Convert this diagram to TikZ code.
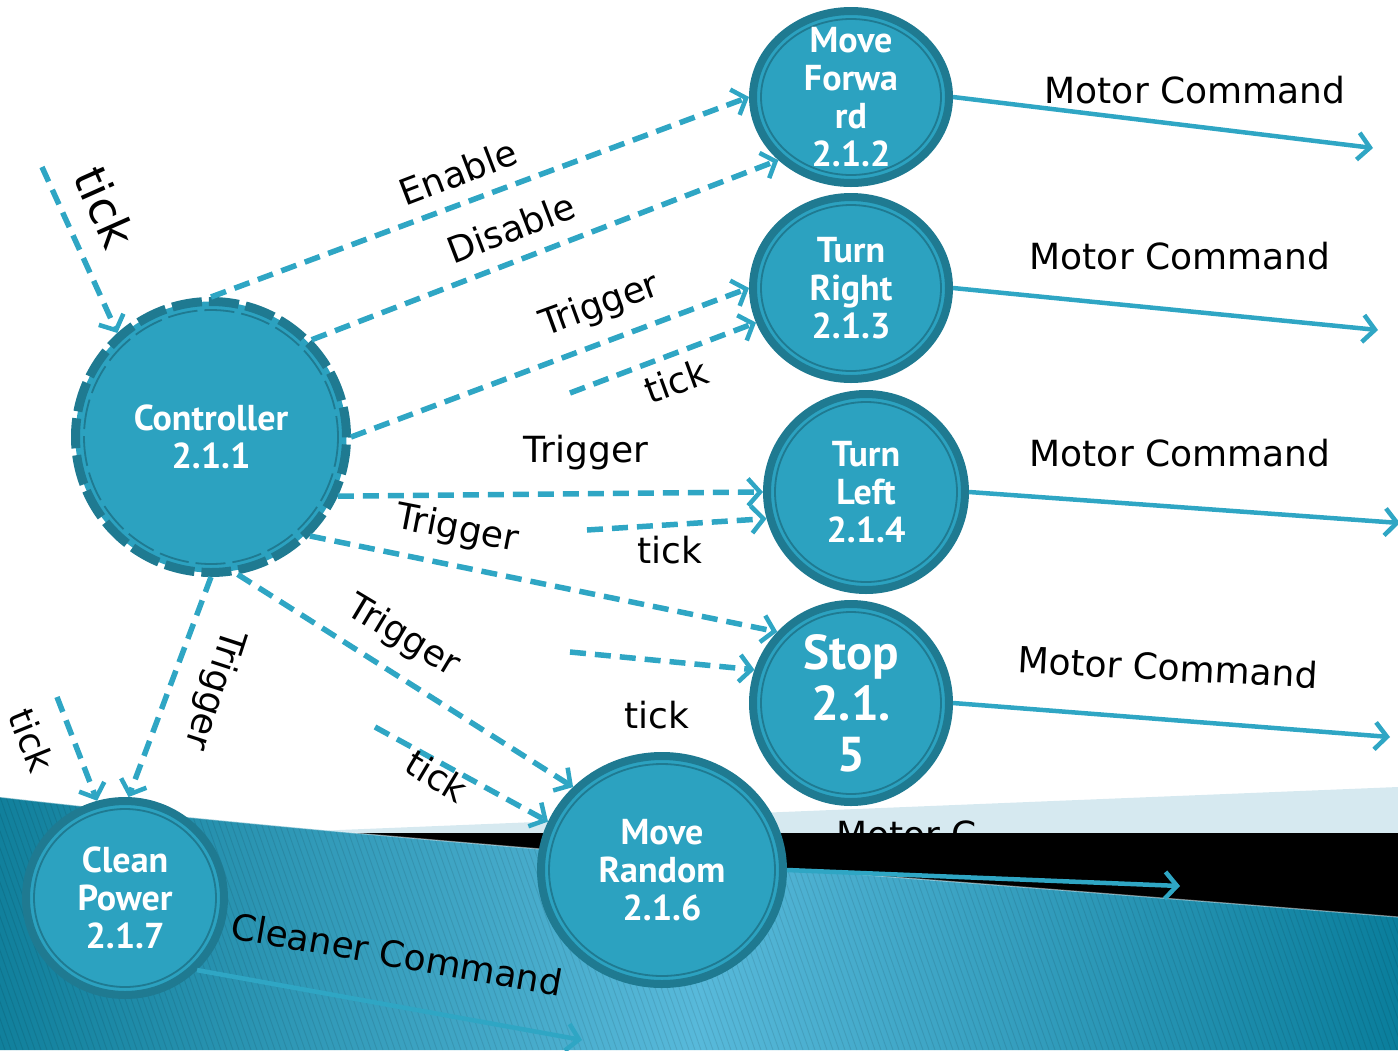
\documentclass[tikz,border=0pt]{standalone}
\usepackage{fontspec}
\setmainfont{DejaVu Sans}
\newfontfamily\procfont{PT Sans}
\usetikzlibrary{shapes.geometric,arrows.meta}

\definecolor{flow}{HTML}{2FA6C4}
\definecolor{procfill}{HTML}{2CA2C0}
\definecolor{procring}{HTML}{1F7A91}
\definecolor{bandlight}{HTML}{D6E9F0}
\definecolor{seaL}{HTML}{11809C}
\definecolor{seaM}{HTML}{58B9DA}
\definecolor{seaR}{HTML}{0A7E9C}

\tikzset{
  flowline/.style={draw=flow, line width=4.5pt,
    -{Straight Barb[length=12pt,width=27pt,line width=4.5pt]}},
  dashflow/.style={flowline, line width=5.5pt, dash pattern=on 16pt off 9pt},
  lbl/.style={font=\fontsize{36}{40}\selectfont, inner sep=0pt, text=black},
  proc/.style={ellipse, fill=procfill, draw=procring, line width=8pt, inner sep=0pt},
  procinner/.style={draw=procring, line width=1.8pt},
  ptext/.style={font=\procfont\bfseries\fontsize{36}{38}\selectfont, text=white,
    align=center, inner sep=0pt},
}

% process bubble: name, x, y, x radius, y radius
\newcommand\procnode[5]{%
  \node[proc, minimum width={2*#4-8}, minimum height={2*#5-8}] (#1) at (#2,#3) {};
  \draw[procinner] (#1.center) ellipse [x radius={#4-12}, y radius={#5-12}];
}

\begin{document}
\begin{tikzpicture}[x=1pt, y=-1pt]
\useasboundingbox (0,0) rectangle (1398,1050);

% ---- slide background ----
\fill[bandlight] (290,832) -- (1398,787) -- (1398,840) -- (290,840) -- cycle;
\node[lbl, anchor=base west] (mc-cut) at (836,847) {Motor C};
\fill[black] (300,833) rectangle (1398,950);
\path[shading=axis, left color=seaL, right color=seaR, middle color=seaM]
  (0,797) .. controls (400,843) and (800,868) .. (1398,917)
  -- (1398,1050) -- (0,1050) -- cycle;
\begin{scope}
  \clip (0,797) .. controls (400,843) and (800,868) .. (1398,917)
    -- (1398,1050) -- (0,1050) -- cycle;
  \foreach \i in {-20,...,240}
    \draw[black, opacity=0.09, line width=0.9pt] ({\i*6},780) -- ++(95,270);
\end{scope}
\draw[white, opacity=0.45, line width=1.2pt]
  (0,797) .. controls (400,843) and (800,868) .. (1398,917);

% ---- processes ----
\node[circle, fill=procfill, draw=procring, line width=9pt,
  dash pattern=on 30pt off 7pt, minimum size=271pt, inner sep=0pt] (ctrl) at (211,437) {};
\draw[procring, line width=1.8pt, dash pattern=on 30pt off 7pt]
  (ctrl.center) circle [radius=127];
\node[ptext] (ctrl-t) at (ctrl) {Controller\\2.1.1};

\procnode{mf}{851}{97}{102}{90}
\node[ptext] (mf-t) at (mf) {Move\\Forwa\\rd\\2.1.2};
\procnode{tr}{851}{288}{102}{95}
\node[ptext] (tr-t) at (tr) {Turn\\Right\\2.1.3};
\procnode{tl}{866}{492}{103}{102}
\node[ptext] (tl-t) at (tl) {Turn\\Left\\2.1.4};
\procnode{st}{851}{703}{102}{103}
\node[ptext, font=\procfont\bfseries\fontsize{49}{51}\selectfont] (st-t) at (st) {Stop\\2.1.\\5};
\procnode{mr}{662}{870}{125}{118}
\node[ptext] (mr-t) at (mr) {Move\\Random\\2.1.6};
\procnode{cp}{125}{898}{103}{101}
\node[ptext] (cp-t) at (cp) {Clean\\Power\\2.1.7};

% ---- free ends ----
\coordinate (tk-top) at (42,167);
\coordinate (tk-tr) at (570,393);
\coordinate (tk-tl) at (587,530);
\coordinate (tk-st) at (570,652);
\coordinate (tk-mr) at (375,727);
\coordinate (tk-cp) at (57,697);
\coordinate (mc-mf) at (1373,148);
\coordinate (mc-tr) at (1378,330);
\coordinate (mc-tl) at (1400,523);
\coordinate (mc-st) at (1390,737);
\coordinate (mc-mr) at (1180,886);
\coordinate (cc-cp) at (582,1040);

% ---- control flows ----
\draw[dashflow] (ctrl.90) -- (mf.180);
\draw[dashflow] (ctrl.44) -- (mf.221);
\draw[dashflow] (ctrl.0) -- (tr.180);
\draw[dashflow] (tk-tr) -- (tr.200);
\draw[dashflow] (ctrl.-25) -- (tl.180);
\draw[dashflow] (tk-tl) -- (tl.195);
\draw[dashflow] (ctrl.-45) -- (st.136);
\draw[dashflow] (tk-st) -- (st.161);
\draw[dashflow] (ctrl.-79) -- (mr.137);
\draw[dashflow] (tk-mr) -- (mr.157);
\draw[dashflow] (ctrl.-90) -- (cp.88);
\draw[dashflow] (tk-cp) -- (cp.106);
\draw[dashflow] (tk-top) -- (ctrl.132);

% ---- data flows ----
\draw[flowline] (mf.0) -- (mc-mf);
\draw[flowline] (tr.0) -- (mc-tr);
\draw[flowline] (tl.0) -- (mc-tl);
\draw[flowline] (st.0) -- (mc-st);
\draw[flowline] (mr.0) -- (mc-mr);
\draw[flowline] (cp.-45) -- (cc-cp);

% ---- labels ----
\node[lbl, rotate=21] (l-en) at (458,172) {Enable};
\node[lbl, rotate=21] (l-dis) at (511,228) {Disable};
\node[lbl, rotate=20] (l-trtr) at (600,306) {Trigger};
\node[lbl, rotate=20] (l-tktr) at (676,381) {tick};
\node[lbl] (l-trtl) at (586,453) {Trigger};
\node[lbl] (l-tktl) at (670,550) {tick};
\node[lbl, rotate=-11] (l-trst) at (457,530) {Trigger};
\node[lbl] (l-tkst) at (657,715) {tick};
\node[lbl, rotate=-31] (l-trmr) at (403,637) {Trigger};
\node[lbl, rotate=-31] (l-tkmr) at (437,776) {tick};
\node[lbl, rotate=-108] (l-trcp) at (214,690) {Trigger};
\node[lbl, rotate=-68] (l-tkcp) at (32,740) {tick};
\node[lbl, rotate=-66, font=\fontsize{46}{50}\selectfont] (l-tktop) at (105,207) {tick};
\node[lbl] (l-mcmf) at (1195,90) {Motor Command};
\node[lbl] (l-mctr) at (1180,256) {Motor Command};
\node[lbl] (l-mctl) at (1180,453) {Motor Command};
\node[lbl, rotate=-3] (l-mcst) at (1168,667) {Motor Command};
\node[lbl, rotate=-10] (l-cc) at (397,954) {Cleaner Command};
\end{tikzpicture}
\end{document}
